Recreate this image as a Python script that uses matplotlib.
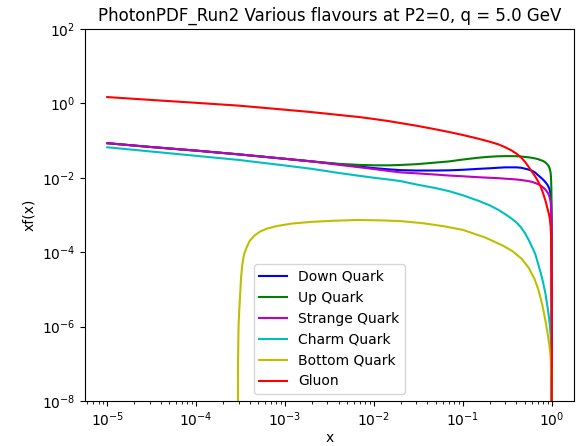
import matplotlib
matplotlib.use("Agg")
import matplotlib.pyplot as plt
import numpy as np
from matplotlib.ticker import NullLocator

# x grid shared by the light quarks, charm and gluon
x_grid = [1e-5, 3e-5, 1e-4, 3e-4, 1e-3, 2e-3, 4e-3, 7e-3, 1e-2, 1.5e-2, 2e-2, 3e-2,
          5e-2, 7e-2, 0.1, 0.15, 0.2, 0.25, 0.3, 0.35, 0.4, 0.45, 0.5, 0.55, 0.6,
          0.65, 0.7, 0.75, 0.8, 0.85, 0.9, 0.93, 0.95, 0.97, 0.98, 0.99, 0.995,
          0.999, 0.9999]

# log10 of xf(x)
log_down = [-1.07, -1.17, -1.27, -1.37, -1.49, -1.56, -1.635, -1.70, -1.74, -1.775,
            -1.795, -1.805, -1.805, -1.80, -1.785, -1.76, -1.745, -1.73, -1.72, -1.72,
            -1.72, -1.73, -1.755, -1.78, -1.81, -1.86, -1.93, -1.99, -2.05, -2.12,
            -2.2, -2.27, -2.33, -2.45, -2.57, -2.9, -3.5, -5.0, -8.5]
log_up = [-1.07, -1.17, -1.27, -1.37, -1.49, -1.56, -1.625, -1.655, -1.665, -1.665,
          -1.655, -1.635, -1.59, -1.56, -1.51, -1.46, -1.435, -1.422, -1.418, -1.418,
          -1.42, -1.428, -1.44, -1.45, -1.465, -1.48, -1.50, -1.525, -1.55, -1.59,
          -1.65, -1.70, -1.76, -1.86, -1.97, -2.3, -2.9, -4.5, -8.0]
log_strange = [-1.07, -1.17, -1.27, -1.37, -1.49, -1.56, -1.65, -1.72, -1.765, -1.82,
               -1.855, -1.88, -1.915, -1.94, -1.96, -1.985, -2.0, -2.01, -2.025, -2.035,
               -2.045, -2.06, -2.075, -2.09, -2.11, -2.14, -2.17, -2.21, -2.26, -2.32,
               -2.40, -2.47, -2.54, -2.64, -2.75, -3.1, -3.7, -5.5, -9.0]
log_charm = [-1.18, -1.29, -1.41, -1.52, -1.67, -1.76, -1.87, -1.95, -2.0, -2.05,
             -2.09, -2.18, -2.28, -2.36, -2.47, -2.62, -2.74, -2.86, -2.98, -3.09,
             -3.2, -3.33, -3.49, -3.67, -3.86, -4.04, -4.3, -4.55, -4.82, -5.12,
             -5.5, -5.75, -5.95, -6.2, -6.4, -6.8, -7.3, -8.5, -10.0]
log_gluon = [0.17, 0.095, 0.015, -0.06, -0.17, -0.235, -0.31, -0.37, -0.42, -0.48,
             -0.53, -0.60, -0.70, -0.77, -0.85, -0.95, -1.03, -1.10, -1.18, -1.26,
             -1.35, -1.45, -1.57, -1.71, -1.84, -1.96, -2.09, -2.24, -2.42, -2.62,
             -2.85, -2.98, -3.1, -3.3, -3.5, -4.0, -4.8, -6.5, -8.5]

# bottom quark only above its threshold
x_bottom = [2.93e-4, 2.96e-4, 3.0e-4, 3.05e-4, 3.1e-4, 3.2e-4, 3.3e-4, 3.45e-4, 3.7e-4,
            4.0e-4, 4.5e-4, 5.2e-4, 6.2e-4, 8e-4, 1.2e-3, 2e-3, 3.5e-3, 6.5e-3, 1.2e-2,
            2e-2, 3.5e-2, 6e-2, 0.1, 0.18, 0.28, 0.36, 0.46, 0.55, 0.64, 0.71, 0.78,
            0.85, 0.9, 0.94, 0.966, 0.98, 0.99, 0.997, 0.9995]
log_bottom = [-12.0, -7.0, -6.0, -5.6, -5.3, -4.7, -4.35, -4.07, -3.87,
              -3.70, -3.56, -3.45, -3.37, -3.30, -3.23, -3.185, -3.155, -3.135, -3.145,
              -3.165, -3.22, -3.30, -3.40, -3.61, -3.82, -3.97, -4.18, -4.42, -4.72, -5.02, -5.4,
              -5.85, -6.2, -6.5, -6.75, -7.0, -7.4, -8.2, -9.5]

labels = ["Down Quark", "Up Quark", "Strange Quark", "Charm Quark", "Bottom Quark", "Gluon"]
colors = ["b", "g", "m", "c", "y", "r"]

series = [
    (x_grid, log_down),
    (x_grid, log_up),
    (x_grid, log_strange),
    (x_grid, log_charm),
    (x_bottom, log_bottom),
    (x_grid, log_gluon),
]

fig = plt.figure(figsize=(5.86, 4.46), dpi=100)
ax = fig.add_axes([0.145, 0.101, 0.8345, 0.834])

for (xs, logs), label, color in zip(series, labels, colors):
    ax.plot(xs, 10.0 ** np.array(logs), color=color, label=label, linewidth=1.5)

ax.set_xscale("log")
ax.set_yscale("log")
ax.set_ylim(1e-8, 1e2)
ax.yaxis.set_minor_locator(NullLocator())
ax.set_xlabel("x", labelpad=1)
ax.set_ylabel("xf(x)")
ax.set_title("PhotonPDF_Run2 Various flavours at P2=0, q = 5.0 GeV")
ax.legend(loc="lower center")

fig.savefig("out.png", dpi=100)
